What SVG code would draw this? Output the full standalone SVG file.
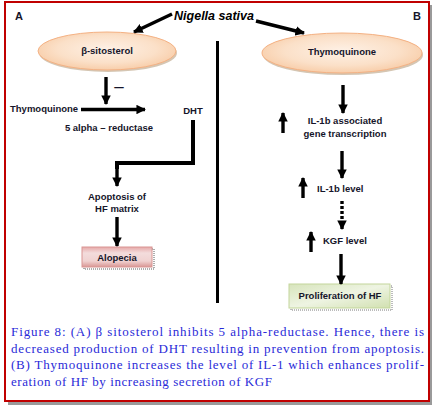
<svg xmlns="http://www.w3.org/2000/svg" width="432" height="405" viewBox="0 0 432 405">
<defs>
<radialGradient id="peach" cx="50%" cy="45%" r="60%">
<stop offset="0" stop-color="#fef1e6"/>
<stop offset="0.6" stop-color="#fbe0c8"/>
<stop offset="1" stop-color="#f7c9a2"/>
</radialGradient>
<linearGradient id="pink" x1="0" y1="0" x2="0" y2="1">
<stop offset="0" stop-color="#e6a9a8"/>
<stop offset="0.3" stop-color="#f3dcdc"/>
<stop offset="0.7" stop-color="#f0d2d1"/>
<stop offset="1" stop-color="#d99694"/>
</linearGradient>
<linearGradient id="green" x1="0" y1="0" x2="1" y2="1">
<stop offset="0" stop-color="#d7e4bc"/>
<stop offset="0.5" stop-color="#eef4e2"/>
<stop offset="1" stop-color="#d1e0b0"/>
</linearGradient>
<marker id="ah" viewBox="0 0 10 10" refX="9" refY="5" markerWidth="2.8" markerHeight="2.8" orient="auto" markerUnits="strokeWidth">
<path d="M0,0 L10,5 L0,10 Z" fill="#000"/>
</marker>
</defs>
<style>
.lbl{font-family:"Liberation Sans",Arial,sans-serif;font-size:9.5px;font-weight:bold;fill:#15152a;}
.cap{font-family:"Liberation Serif","Times New Roman",serif;font-size:13px;fill:#2a2ad8;}
.ar{stroke:#000;stroke-width:3.4;fill:none;marker-end:url(#ah);}
.thick{stroke:#000;stroke-width:4;fill:none;}
</style>
<rect x="8" y="5" width="424" height="400" fill="#9a9a9a"/>
<rect x="5" y="2" width="424" height="399" fill="#fff" stroke="#c00000" stroke-width="2"/>

<text x="15" y="20" class="lbl" style="font-size:11px">A</text>
<text x="413" y="20" class="lbl" style="font-size:11px">B</text>

<g id="nigella">
<text x="214" y="20" text-anchor="middle" font-family="Liberation Sans, Arial, sans-serif" font-size="12.5" font-weight="bold" font-style="italic" fill="#000">Nigella sativa</text>
</g>

<g id="sitosterol">
<ellipse cx="108" cy="53" rx="69" ry="19" fill="#b9a080" opacity="0.6"/>
<ellipse cx="107" cy="51" rx="69" ry="19" fill="url(#peach)" stroke="#f4b183" stroke-width="1"/>
<text x="107" y="54" text-anchor="middle" class="lbl">β-sitosterol</text>
</g>

<g id="thymoquinone-b">
<ellipse cx="343" cy="55" rx="80" ry="20" fill="#b9a080" opacity="0.6"/>
<ellipse cx="342" cy="53" rx="80" ry="20" fill="url(#peach)" stroke="#f4b183" stroke-width="1"/>
<text x="342" y="55" text-anchor="middle" class="lbl">Thymoquinone</text>
</g>

<g id="thymoquinone-a"><text x="10" y="112" class="lbl">Thymoquinone</text></g>
<g id="reductase"><text x="109" y="131" text-anchor="middle" class="lbl">5 alpha – reductase</text></g>
<g id="minus"><text x="119" y="92" text-anchor="middle" class="lbl" style="font-size:17px;font-weight:normal">–</text></g>
<g id="dht"><text x="193" y="114" text-anchor="middle" class="lbl">DHT</text></g>
<g id="apoptosis">
<text x="117" y="200" text-anchor="middle" class="lbl">Apoptosis of</text>
<text x="117" y="212" text-anchor="middle" class="lbl">HF matrix</text>
</g>
<g id="alopecia">
<rect x="84" y="249" width="70" height="20" fill="none" stroke="#333" stroke-width="0.8" stroke-dasharray="1,1"/>
<rect x="82" y="247" width="70" height="20" fill="url(#pink)" stroke="#d99694" stroke-width="1"/>
<text x="117" y="261" text-anchor="middle" class="lbl">Alopecia</text>
</g>

<g id="il1b-trans">
<text x="345" y="124" text-anchor="middle" class="lbl">IL-1b associated</text>
<text x="345" y="137" text-anchor="middle" class="lbl">gene transcription</text>
</g>
<g id="il1b-level"><text x="317" y="192" class="lbl">IL-1b level</text></g>
<g id="kgf"><text x="323" y="244" class="lbl">KGF level</text></g>
<g id="proliferation">
<rect x="291" y="286" width="101" height="24" fill="none" stroke="#555" stroke-width="0.8" stroke-dasharray="1,1"/>
<rect x="289" y="284" width="101" height="24" fill="url(#green)" stroke="#c3d69b" stroke-width="1"/>
<text x="340" y="299" text-anchor="middle" class="lbl">Proliferation of HF</text>
</g>

<g id="connectors">
<line x1="172" y1="14" x2="134" y2="32" class="ar" stroke-width="4"/>
<line x1="256" y1="21" x2="304" y2="33" class="ar" stroke-width="4"/>
<line x1="217.5" y1="41" x2="217.5" y2="303" stroke="#000" stroke-width="3"/>
<line x1="106" y1="77" x2="106" y2="104" class="ar"/>
<line x1="81" y1="109.5" x2="145" y2="109.5" class="ar"/>
<polyline points="193,120 193,163 117,163 117,169" class="thick"/>
<line x1="117" y1="163" x2="117" y2="186" class="ar" stroke-width="4"/>
<line x1="117" y1="217" x2="117" y2="246" class="ar" stroke-width="4"/>
<line x1="343" y1="85" x2="343" y2="113" class="ar"/>
<line x1="283" y1="133" x2="283" y2="113" class="ar"/>
<line x1="342" y1="151" x2="342" y2="178" class="ar"/>
<line x1="303" y1="198" x2="303" y2="178" class="ar"/>
<line x1="342" y1="201" x2="342" y2="229" class="ar" stroke-dasharray="3,2"/>
<line x1="311" y1="252" x2="311" y2="232" class="ar"/>
<line x1="341" y1="254" x2="341" y2="284" class="ar"/>
</g>

<g id="caption">
<text x="11" y="336" class="cap" textLength="413" lengthAdjust="spacing">Figure 8: (A) β sitosterol inhibits 5 alpha-reductase. Hence, there is</text>
<text x="11" y="353" class="cap" textLength="413" lengthAdjust="spacing">decreased production of DHT resulting in prevention from apoptosis.</text>
<text x="11" y="369" class="cap" textLength="413" lengthAdjust="spacing">(B) Thymoquinone increases the level of IL-1 which enhances prolif-</text>
<text x="11" y="386" class="cap" textLength="261" lengthAdjust="spacing">eration of HF by increasing secretion of KGF</text>
</g>
</svg>
